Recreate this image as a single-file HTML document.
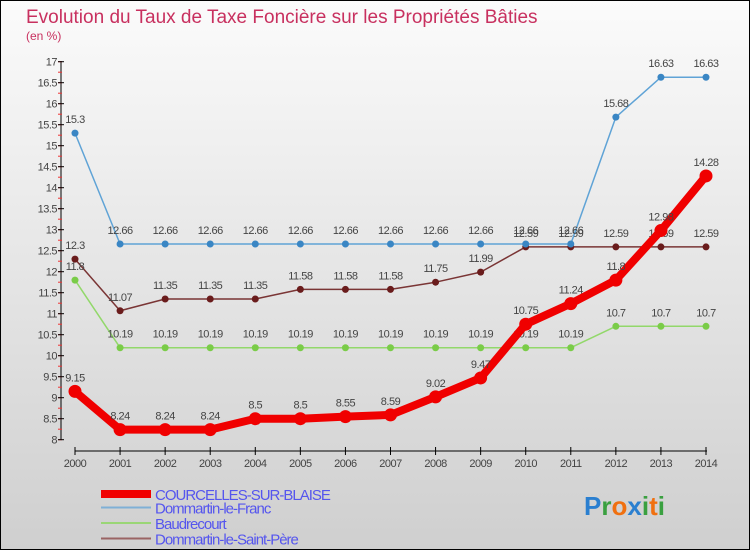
<!DOCTYPE html>
<html><head><meta charset="utf-8"><style>
body{margin:0;}
#c{position:relative;width:748px;height:548px;border:1px solid #000;background:linear-gradient(#fbfbfb,#cfcfcf);overflow:hidden;font-family:"Liberation Sans",sans-serif;}
</style></head><body>
<div id="c">
<svg id="s" width="748" height="548" xmlns="http://www.w3.org/2000/svg">
<text x="25" y="22" font-size="19" fill="#c8305f">Evolution du Taux de Taxe Foncière sur les Propriétés Bâties</text>
<text x="25" y="39" font-size="12" fill="#c8305f">(en %)</text>
</svg>
</div>
<script>
const years=[2000,2001,2002,2003,2004,2005,2006,2007,2008,2009,2010,2011,2012,2013,2014];
const yTicks=[8,8.5,9,9.5,10,10.5,11,11.5,12,12.5,13,13.5,14,14.5,15,15.5,16,16.5,17];
const courcelles=[9.15,8.24,8.24,8.24,8.5,8.5,8.55,8.59,9.02,9.47,10.75,11.24,11.8,12.98,14.28];
const franc=[15.3,12.66,12.66,12.66,12.66,12.66,12.66,12.66,12.66,12.66,12.66,12.66,15.68,16.63,16.63];
const baudrecourt=[11.8,10.19,10.19,10.19,10.19,10.19,10.19,10.19,10.19,10.19,10.19,10.19,10.7,10.7,10.7];
const stpere=[12.3,11.07,11.35,11.35,11.35,11.58,11.58,11.58,11.75,11.99,12.59,12.59,12.59,12.59,12.59];
const seriesNames=["COURCELLES-SUR-BLAISE","Dommartin-le-Franc","Baudrecourt","Dommartin-le-Saint-Père"];

const s=document.getElementById('s');const NS="http://www.w3.org/2000/svg";
const X=i=>74+i*(631/14), Y=v=>438.7-(v-8)*42;
function el(t,a,p){const e=document.createElementNS(NS,t);for(const k in a)e.setAttribute(k,a[k]);(p||s).appendChild(e);return e;}
// axes
let ax=el('line',{x1:60,y1:60,x2:60,y2:439,stroke:'#000','stroke-width':1});


let bx=el('line',{x1:74,y1:450,x2:706,y2:450,stroke:'#000','stroke-width':1});


for(let v=8;v<=17.001;v+=0.25){el('line',{x1:57,x2:61,y1:Y(v),y2:Y(v),stroke:'#e33','stroke-width':1});}
yTicks.forEach(v=>{el('line',{x1:57,x2:63,y1:Y(v),y2:Y(v),stroke:'#000'});
 const t=el('text',{x:56,y:Y(v)+4,'font-size':11,'text-anchor':'end',fill:'#444','letter-spacing':'-0.5'});t.textContent=v;
 
 });
years.forEach((y,i)=>{el('line',{x1:X(i),x2:X(i),y1:446,y2:454,stroke:'#000'});
 const t=el('text',{x:X(i),y:466,'font-size':11,'text-anchor':'middle',fill:'#444','letter-spacing':'-0.5'});t.textContent=y;
 
 });
function series(data,color,dot,w,r,name){
 const g=el('g',{});
 
 
 el('polyline',{points:data.map((v,i)=>X(i)+','+Y(v)).join(' '),fill:'none',stroke:color,'stroke-width':w,'stroke-linejoin':'round'},g);
 data.forEach((v,i)=>{const c=el('circle',{cx:X(i),cy:Y(v),r:r,fill:dot},g);
  
  
  const t=el('text',{x:X(i),y:Y(v)-10,'font-size':11,'text-anchor':'middle',fill:'#444','letter-spacing':'-0.5'},g);t.textContent=v;
  
  });
}
series(stpere,'#7a3535','#6a1c1c',1.5,3.5,'series-dommartin-le-saint-pere');
series(baudrecourt,'#92d86a','#7acc48',1.5,3.5,'series-baudrecourt');
series(franc,'#5fa3d6','#3a86c4',1.5,3.5,'series-dommartin-le-franc');
series(courcelles,'#f00000','#f00000',8,6.5,'series-courcelles-sur-blaise');
// legend
const lc=[['#f00000',8],['#7fb0d6',2],['#9ad676',2],['#9a6464',2]];
seriesNames.forEach((n,i)=>{const y=493+i*15.5-(i>0?2:0);
 const l=el('line',{x1:100,x2:150,y1:y,y2:y,stroke:lc[i][0],'stroke-width':lc[i][1]});
 
 
 const t=el('text',{x:154,y:y+6,'font-size':15,fill:'#5555ee','letter-spacing':'-1'});t.textContent=n;
 
 });
const p=el('text',{x:583,y:514,'font-size':26,'font-weight':'bold'});


[['P','#2a7fd0'],['r','#3aa040'],['o','#f07010'],['x','#2a7fd0'],['i','#3aa040'],['t','#f07010'],['i','#3aa040']].forEach(([c,f])=>{const ts=el('tspan',{fill:f},p);ts.textContent=c;});
</script>
</body></html>
